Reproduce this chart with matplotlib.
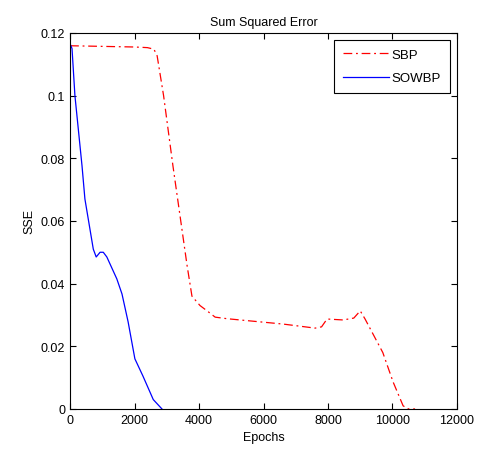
import numpy as np
import matplotlib
matplotlib.use("Agg")
import matplotlib.pyplot as plt

plt.rcParams["font.family"] = ["Liberation Sans", "DejaVu Sans"]

# SBP curve
sbp_epochs = [0, 1000, 2000, 2400, 2600, 2700, 2900, 3190, 3350, 3630, 3780, 4030, 4250,
              4500, 4870, 5580, 6600, 7600, 7800, 7970, 8470, 8800, 9000, 9150, 9700,
              10020, 10330, 10500, 10700]
sbp_sse = [0.1159, 0.1157, 0.1155, 0.1153, 0.1148, 0.1127, 0.100, 0.0776, 0.066, 0.0457,
           0.036, 0.033, 0.0313, 0.0293, 0.0288, 0.0281, 0.0271, 0.0258, 0.0262, 0.0287,
           0.0284, 0.029, 0.0313, 0.0287, 0.018, 0.0086, 0.001, 0.0, 0.0]

# SOWBP curve
sow_epochs = [0, 60, 150, 370, 460, 720, 810, 930, 1030, 1140, 1450, 1610, 1800, 2010,
              2260, 2580, 2850]
sow_sse = [0.1165, 0.115, 0.1, 0.0776, 0.067, 0.051, 0.0485, 0.050, 0.050, 0.0485,
           0.0415, 0.0367, 0.0278, 0.016, 0.0105, 0.003, 0.0]

fig = plt.figure(figsize=(4.8, 4.52), dpi=100)
ax = fig.add_axes([0.146, 0.093, 0.806, 0.832])

ax.plot(sbp_epochs, sbp_sse, color="red", lw=0.9, dashes=[7, 3, 1.5, 3], label="SBP")
ax.plot(sow_epochs, sow_sse, "b-", lw=0.9, label="SOWBP")

ax.set_xlim(0, 12000)
ax.set_ylim(0, 0.12)
ax.set_xticks(np.arange(0, 12001, 2000))
ax.set_yticks(np.arange(0, 0.121, 0.02))
ax.set_yticklabels(["0", "0.02", "0.04", "0.06", "0.08", "0.1", "0.12"])
ax.tick_params(direction="in", top=True, right=True, labelsize=9, length=4)
ax.set_xlabel("Epochs", fontsize=9)
ax.set_ylabel("SSE", fontsize=9)
ax.set_title("Sum Squared Error", fontsize=9)

leg = ax.legend(loc="upper right", fontsize=9.5, fancybox=False, framealpha=1,
                edgecolor="black", borderaxespad=0.55, handlelength=3.5,
                labelspacing=0.85, handletextpad=0.2, borderpad=0.65)
leg.get_frame().set_linewidth(0.8)

fig.savefig("out.png")
